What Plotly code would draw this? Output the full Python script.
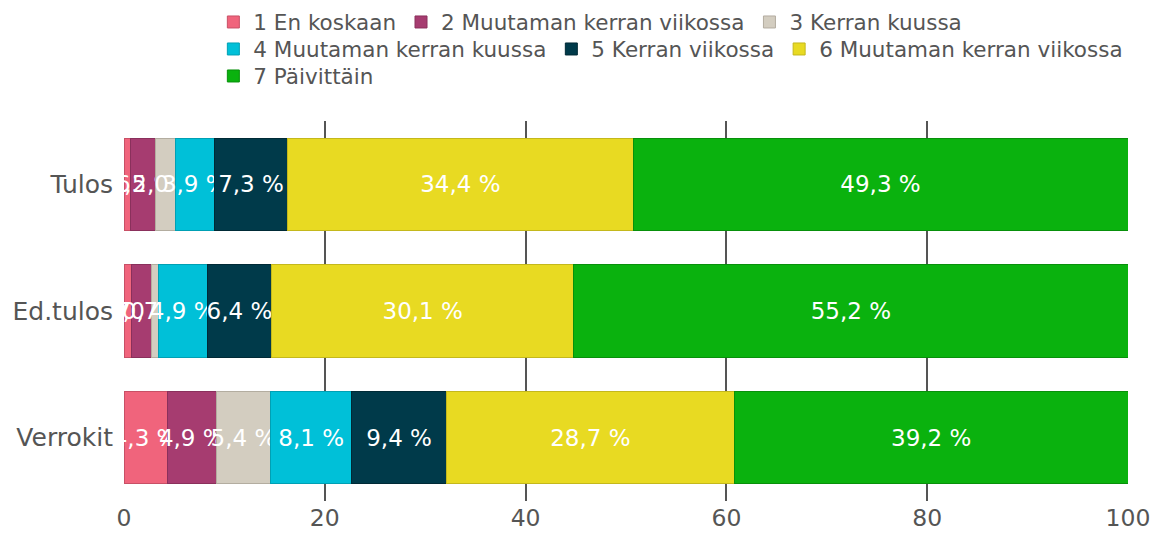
import plotly.graph_objects as go

categories = ["Verrokit", "Ed.tulos", "Tulos"]
series_names = [
    "1 En koskaan",
    "2 Muutaman kerran viikossa",
    "3 Kerran kuussa",
    "4 Muutaman kerran kuussa",
    "5 Kerran viikossa",
    "6 Muutaman kerran viikossa",
    "7 Päivittäin",
]
# values per series, in order of categories (Verrokit, Ed.tulos, Tulos)
s1 = [4.3, 0.7, 0.6]
s2 = [4.9, 2.0, 2.5]
s3 = [5.4, 0.7, 2.0]
s4 = [8.1, 4.9, 3.9]
s5 = [9.4, 6.4, 7.3]
s6 = [28.7, 30.1, 34.4]
s7 = [39.2, 55.2, 49.3]
series_values = [s1, s2, s3, s4, s5, s6, s7]

colors = ["#f0647c", "#a63c70", "#d3cdc0", "#00c0d8", "#003a4a", "#e8da22", "#0ab20e"]
line_colors = ["#c85066", "#8a305c", "#b3ada0", "#00a0b4", "#002a36", "#c4b81c", "#08900b"]
legend_ids = ["legend", "legend", "legend", "legend2", "legend2", "legend2", "legend3"]

FONT = "DejaVu Sans"
fig = go.Figure()
for name, vals, c, lc, lg in zip(series_names, series_values, colors, line_colors, legend_ids):
    fig.add_trace(go.Bar(
        y=categories, x=vals, name=name, orientation="h", legend=lg,
        marker=dict(color=c, line=dict(color=lc, width=1)),
        text=[f"{v:.1f} %".replace(".", ",") for v in vals],
        textposition="inside", insidetextanchor="middle", textangle=0,
        textfont=dict(color="white", size=23, family=FONT),
        constraintext="none", cliponaxis=False,
    ))

PT, PH = 121, 380
PL, PW = 124, 1004
def ly(px):
    return 1 + (PT - px) / PH

leg_common = dict(orientation="h", x=0.089, xanchor="left", yanchor="middle",
                  bgcolor="rgba(0,0,0,0)",
                  font=dict(size=21.5, color="#555555", family=FONT),
                  traceorder="normal")

fig.update_layout(
    barmode="stack", bargap=0.27,
    width=1153, height=541,
    margin=dict(l=PL, r=1153 - PL - PW, t=PT, b=541 - PT - PH, autoexpand=False),
    paper_bgcolor="white", plot_bgcolor="white",
    font=dict(family=FONT, color="#555555"),
    uniformtext=dict(minsize=23, mode="show"),
    legend=dict(y=ly(22), **leg_common),
    legend2=dict(y=ly(49), **leg_common),
    legend3=dict(y=ly(76), **leg_common),
    showlegend=True,
)
fig.update_xaxes(range=[0, 100], tickvals=[0, 20, 40, 60, 80, 100],
                 showgrid=True, gridcolor="#555555", gridwidth=2,
                 zeroline=False, showline=False, ticks="",
                 tickfont=dict(size=23.5, color="#555555", family=FONT))
fig.update_yaxes(showgrid=False, zeroline=False, showline=False, ticks="",
                 automargin=False, ticklabelstandoff=10,
                 tickfont=dict(size=25, color="#555555", family=FONT))

fig.write_html("out.html", config={"displayModeBar": False},
               post_script="document.body.style.margin='0px';")
